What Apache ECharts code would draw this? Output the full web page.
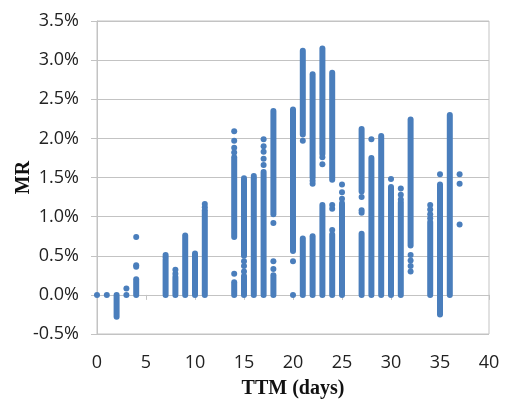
<!DOCTYPE html>
<html><head><meta charset="utf-8">
<script src="https://cdn.jsdelivr.net/npm/echarts@6/dist/echarts.min.js"></script>
<style>html,body{margin:0;padding:0;background:#fff}#c{width:507px;height:402px}</style>
</head><body><div id="c"></div>
<script>
// X axis (TTM in days) ticks and Y axis (MR, %) ticks
const xTickValues = [0, 5, 10, 15, 20, 25, 30, 35, 40];
const yTickValues = [-0.5, 0, 0.5, 1.0, 1.5, 2.0, 2.5, 3.0, 3.5];

// Dense runs of observations: [TTM day, lowest MR %, highest MR %]
const denseRuns = [
  [2, -0.28, 0],
  [4, 0, 0.20],
  [7, 0, 0.45],
  [8, 0, 0.23],
  [9, 0, 0.76],
  [10, 0, 0.53],
  [11, 0, 1.08],
  [14, 0, 0.16], [14, 0.74, 1.76],
  [15, 0, 0.24], [15, 0.50, 1.49],
  [16, 0, 1.49],
  [17, 0, 1.57],
  [18, 0, 0.25], [18, 1.03, 2.35],
  [20, 0.56, 2.37],
  [21, 0, 0.72], [21, 2.05, 3.12],
  [22, 0, 0.75], [22, 1.50, 2.82],
  [23, 0, 1.15], [23, 1.80, 3.15],
  [24, 0, 0.77], [24, 1.47, 2.84],
  [25, 0, 1.17],
  [27, 0, 0.78], [27, 1.32, 2.12],
  [28, 0, 1.75],
  [29, 0, 2.03],
  [30, 0, 1.38],
  [31, 0, 1.18],
  [32, 0.63, 2.24],
  [34, 0, 0.93],
  [35, -0.25, 1.41],
  [36, 0, 2.30]
];

// Isolated observations: [TTM day, MR %]
const isolatedPoints = [
  [0, 0], [1, 0],
  [3, 0], [3, 0.08],
  [4, 0.36], [4, 0.38], [4, 0.74],
  [7, 0.48], [7, 0.51],
  [8, 0.27], [8, 0.32],
  [11, 1.12], [11, 1.16],
  [14, 0.27], [14, 1.82], [14, 1.88], [14, 1.97], [14, 2.09],
  [15, 0.30], [15, 0.37], [15, 0.43],
  [16, 1.52],
  [17, 1.66], [17, 1.74], [17, 1.83], [17, 1.90], [17, 1.99],
  [18, 0.33], [18, 0.43], [18, 0.92],
  [20, 0], [20, 0.43],
  [21, 1.97],
  [22, 1.42], [22, 1.46],
  [23, 1.67], [23, 1.76],
  [24, 0.83], [24, 1.10], [24, 1.15],
  [25, 1.23], [25, 1.31], [25, 1.41],
  [27, 1.05], [27, 1.08], [27, 1.25],
  [28, 1.99],
  [30, 1.48],
  [31, 1.22], [31, 1.28], [31, 1.36],
  [32, 0.30], [32, 0.37], [32, 0.44], [32, 0.51],
  [34, 0.98], [34, 1.03], [34, 1.09], [34, 1.15],
  [35, 1.54],
  [37, 0.90], [37, 1.42], [37, 1.54]
];

const dotColor = '#4a7ebc';
const gridColor = '#c3c3c3';
const tickFont = { fontFamily: 'Open Sans', fontSize: 18, color: '#222' };
const titleFont = { fontFamily: 'Liberation Serif', fontSize: 20, fontWeight: 'bold', color: '#111' };

const chart = echarts.init(document.getElementById('c'), null, { renderer: 'canvas' });
chart.setOption({
  animation: false,
  backgroundColor: '#fff',
  grid: { left: 97, right: 18, top: 21, bottom: 68, containLabel: false, outerBoundsMode: 'none',
          show: true, borderColor: gridColor, borderWidth: 1, backgroundColor: 'transparent' },
  xAxis: [
    {
      type: 'value', min: xTickValues[0], max: xTickValues[xTickValues.length - 1], interval: 5,
      position: 'bottom',
      axisLine: { show: true, onZero: true, lineStyle: { color: gridColor, width: 1 } },
      axisTick: { show: true, length: 5, inside: false, lineStyle: { color: gridColor } },
      axisLabel: { show: false },
      splitLine: { show: false }
    },
    {
      type: 'value', min: xTickValues[0], max: xTickValues[xTickValues.length - 1], interval: 5,
      position: 'bottom',
      axisLine: { show: false, onZero: false },
      axisTick: { show: false },
      axisLabel: Object.assign({ margin: 20 }, tickFont),
      splitLine: { show: false },
      name: 'TTM (days)', nameLocation: 'middle', nameGap: 45, nameMoveOverlap: false,
      nameTextStyle: titleFont
    }
  ],
  yAxis: {
    type: 'value', min: yTickValues[0], max: yTickValues[yTickValues.length - 1], interval: 0.5,
    axisLine: { show: true, onZero: false, lineStyle: { color: gridColor } },
    axisTick: { show: true, length: 6, lineStyle: { color: gridColor } },
    axisLabel: Object.assign({ margin: 18, formatter: v => v.toFixed(1) + '%' }, tickFont),
    splitLine: { show: true, lineStyle: { color: gridColor, width: 1 } },
    name: 'MR', nameLocation: 'middle', nameGap: 63, nameMoveOverlap: false,
    nameTextStyle: titleFont
  },
  series: [
    {
      type: 'custom', xAxisIndex: 0, data: denseRuns,
      encode: { x: 0, y: [1, 2] },
      renderItem: function (params, api) {
        const p1 = api.coord([api.value(0), api.value(1)]);
        const p2 = api.coord([api.value(0), api.value(2)]);
        return { type: 'line', shape: { x1: p1[0], y1: p1[1], x2: p2[0], y2: p2[1] },
                 style: { stroke: dotColor, lineWidth: 6, lineCap: 'round' } };
      }
    },
    {
      type: 'scatter', xAxisIndex: 0, data: isolatedPoints,
      symbol: 'circle', symbolSize: 6,
      itemStyle: { color: dotColor, opacity: 1 }
    }
  ]
});
</script></body></html>
